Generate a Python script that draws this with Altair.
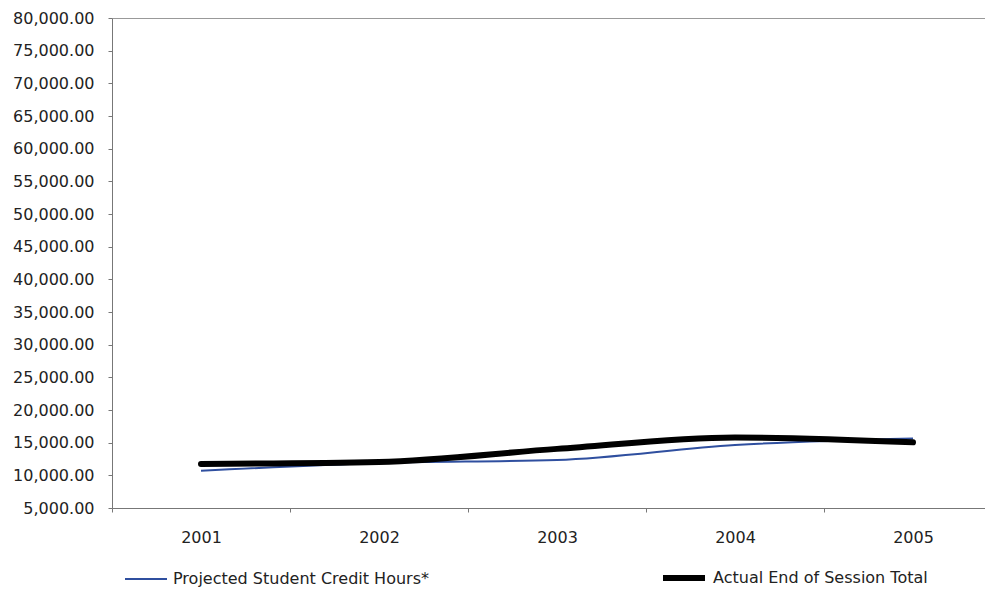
import altair as alt
import pandas as pd

years = ["2001", "2002", "2003", "2004", "2005"]
projected = [10700, 11900, 12350, 14650, 15650]
actual = [11750, 12050, 14050, 15800, 15050]
series_names = ["Projected Student Credit Hours*", "Actual End of Session Total"]
y_ticks = list(range(5000, 80001, 5000))

df = pd.DataFrame({
    "year": years * 2,
    "value": projected + actual,
    "series": [series_names[0]] * len(years) + [series_names[1]] * len(years),
})

FONT = "DejaVu Sans"
TEXT = "#222222"
AXIS = "#777777"

color_scale = alt.Scale(domain=series_names, range=["#2f4f9f", "#000000"])
width_scale = alt.Scale(domain=series_names, range=[2, 6])

legend = alt.Legend(
    title=None, orient="none", legendX=12, legendY=536, direction="horizontal",
    symbolType="stroke", symbolSize=1764, labelFont=FONT, labelFontSize=16,
    labelColor=TEXT, columnPadding=222, labelOffset=5, padding=0, labelLimit=0,
)

x_enc = alt.X(
    "year:N",
    scale=alt.Scale(type="band", range=[0, 890], paddingInner=0, paddingOuter=0),
    axis=alt.Axis(title=None, labelAngle=0, tickBand="extent", tickSize=4,
                  labelPadding=17, labelFont=FONT, labelFontSize=16, labelColor=TEXT,
                  domainColor=AXIS, tickColor=AXIS, grid=False),
)
y_enc = alt.Y(
    "value:Q",
    scale=alt.Scale(domain=[5000, 80000], zero=False, nice=False),
    axis=alt.Axis(title=None, values=y_ticks, tickCount=len(y_ticks), format=",.2f",
                  grid=True,
                  gridColor={"condition": {"test": "datum.value === 80000", "value": "#999999"},
                             "value": "transparent"},
                  tickSize=4, labelPadding=14, labelFont=FONT,
                  labelFontSize=16, labelColor=TEXT, labelOverlap=False,
                  domainColor=AXIS, tickColor=AXIS),
)

base = alt.Chart(df).encode(
    x=x_enc,
    y=y_enc,
    color=alt.Color("series:N", scale=color_scale, legend=legend),
    strokeWidth=alt.StrokeWidth("series:N", scale=width_scale, legend=legend),
)

proj_line = base.transform_filter(alt.datum.series == series_names[0]).mark_line(interpolate="monotone")
act_line = base.transform_filter(alt.datum.series == series_names[1]).mark_line(interpolate="monotone", strokeCap="round")

chart = alt.layer(proj_line, act_line).properties(
    width=875, height=490,
    autosize=alt.AutoSizeParams(type="none"),
    padding={"left": 104, "top": 10, "right": -2, "bottom": 80},
).configure(
    background="white",
    view=alt.ViewConfig(stroke="transparent", strokeWidth=0),
    axisRight=alt.AxisConfig(domain=False, ticks=False, labels=False),
)

chart.save("out.html", embed_options={"renderer": "svg", "actions": False})
